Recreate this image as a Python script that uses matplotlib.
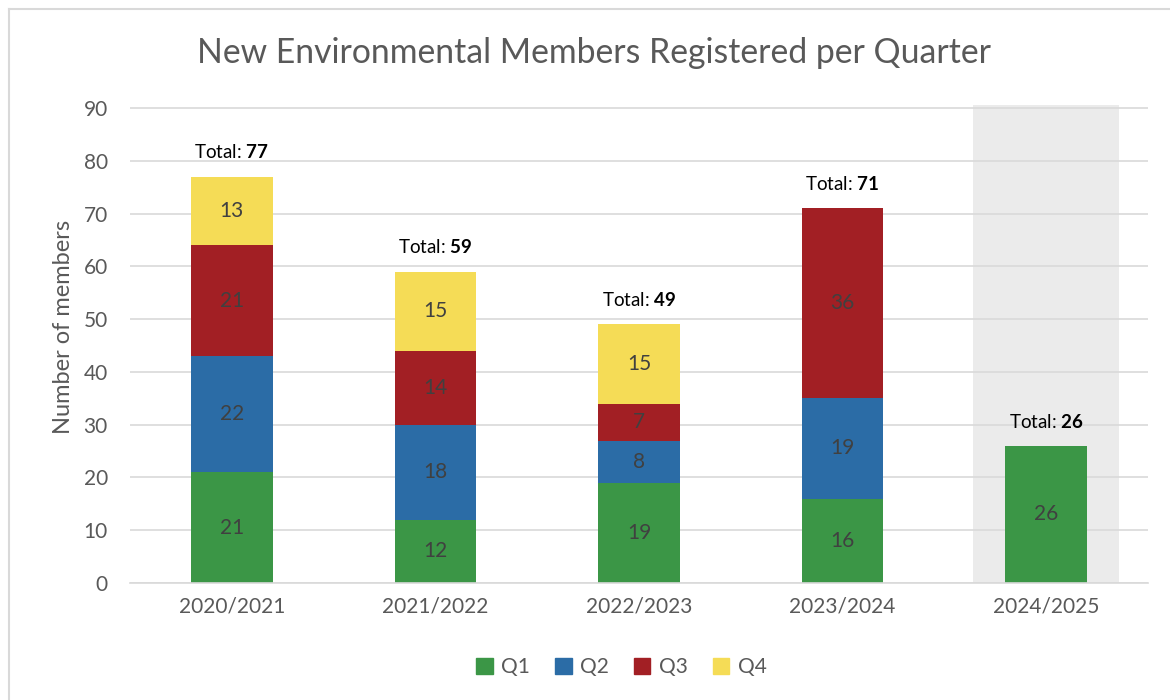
import numpy as np
import matplotlib
matplotlib.use("Agg")
import matplotlib.pyplot as plt
from matplotlib.lines import Line2D
from matplotlib.patches import Patch

plt.rcParams['font.family'] = ['Lato', 'DejaVu Sans']
plt.rcParams['mathtext.fontset'] = 'custom'
plt.rcParams['mathtext.rm'] = 'Lato'
plt.rcParams['mathtext.bf'] = 'Lato:bold'

years = ['2020/2021', '2021/2022', '2022/2023', '2023/2024', '2024/2025']
q1 = [21, 12, 19, 16, 26]
q2 = [22, 18, 8, 19, 0]
q3 = [21, 14, 7, 36, 0]
q4 = [13, 15, 15, 0, 0]
totals = [77, 59, 49, 71, 26]

series = [('Q1', q1, '#3b9646'), ('Q2', q2, '#2b6ca6'),
          ('Q3', q3, '#a21f24'), ('Q4', q4, '#f5dc56')]

fig = plt.figure(figsize=(11.7, 7), dpi=100)
ax = fig.add_axes([130 / 1170, 1 - 583 / 700, 1018 / 1170, (583 - 105) / 700])

# chart border (top and left visible)
fig.add_artist(Line2D([9 / 1170, 1], [1 - 9 / 700, 1 - 9 / 700], color='#d9d9d9', lw=1.5))
fig.add_artist(Line2D([9 / 1170, 9 / 1170], [0, 1 - 9 / 700], color='#d9d9d9', lw=1.5))

x = np.arange(len(years))
# current year highlight
ax.axvspan(x[-1] - 0.36, x[-1] + 0.36, color='#ebebeb', zorder=0, lw=0)

bottom = np.zeros(len(years))
for name, vals, col in series:
    vals = np.array(vals, dtype=float)
    ax.bar(x, vals, 0.4, bottom=bottom, color=col, label=name, zorder=2)
    for xi, v, b in zip(x, vals, bottom):
        if v > 0:
            ax.text(xi, b + v / 2, f'{int(v)}', ha='center', va='center',
                    fontsize=15, color='#404040', zorder=3)
    bottom += vals

for xi, t in zip(x, totals):
    ax.annotate(f'Total: $\\mathbf{{{t}}}$', (xi, t), xytext=(0, 11),
                textcoords='offset points', ha='center', va='bottom',
                fontsize=13.5, color='black')

ax.set_xlim(-0.5, len(years) - 0.5)
ax.set_ylim(0, 90.6)
ax.set_yticks(range(0, 91, 10))
ax.set_xticks(x)
ax.set_xticklabels(years)
ax.tick_params(axis='both', length=0, labelsize=15, colors='#595959')
ax.tick_params(axis='x', pad=10)
ax.tick_params(axis='y', pad=16)
ax.grid(axis='y', color='#d9d9d9', lw=1.2, zorder=1)
ax.set_axisbelow(True)
for s in ['top', 'right', 'left']:
    ax.spines[s].set_visible(False)
ax.spines['bottom'].set_color('#d9d9d9')
ax.spines['bottom'].set_linewidth(1.2)

ax.set_ylabel('Number of members', fontsize=17, color='#595959')
ax.yaxis.set_label_coords(-0.055, 0.536)
fig.text(0.508, 1 - 53 / 700, 'New Environmental Members Registered per Quarter',
         ha='center', va='center', fontsize=24.3, color='#595959')

handles = [Patch(color=c, label=n) for n, _, c in series]
fig.legend(handles=handles, loc='center', bbox_to_anchor=(0.531, 1 - 667 / 700),
           ncol=4, frameon=False, fontsize=15, handlelength=0.8, handleheight=0.8,
           columnspacing=1.2, handletextpad=0.4, labelcolor='#595959')

fig.savefig('out.png', dpi=100)
